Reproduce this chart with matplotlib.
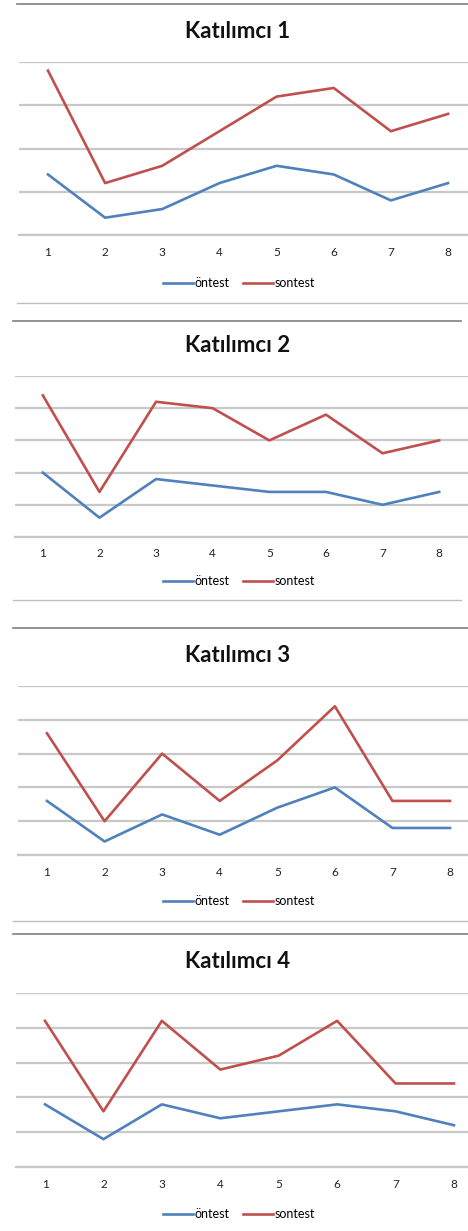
import matplotlib
matplotlib.use("Agg")
import matplotlib.pyplot as plt
from matplotlib.lines import Line2D

plt.rcParams['font.family'] = ['Lato', 'DejaVu Sans']

sessions = [1, 2, 3, 4, 5, 6, 7, 8]
titles = ["Katılımcı 1", "Katılımcı 2", "Katılımcı 3", "Katılımcı 4"]
ontest_1 = [7, 2, 3, 6, 8, 7, 4, 6]
sontest_1 = [19, 6, 8, 12, 16, 17, 12, 14]
ontest_2 = [10, 3, 9, 8, 7, 7, 5, 7]
sontest_2 = [22, 7, 21, 20, 15, 19, 13, 15]
ontest_3 = [8, 2, 6, 3, 7, 10, 4, 4]
sontest_3 = [18, 5, 15, 8, 14, 22, 8, 8]
ontest_4 = [9, 4, 9, 7, 8, 9, 8, 6]
sontest_4 = [21, 8, 21, 14, 16, 21, 12, 12]
ymax = [20, 25, 25, 25]
ystep = 5

W, H = 468, 1231
fig = plt.figure(figsize=(W / 100, H / 100), dpi=100)

BLUE = '#4F81BD'
RED = '#C0504D'
GRID = '#C8C8C8'

# layout in pixels: (left, right, top_grid, bottom_grid, title_y, tick_y, legend_y, frame_top, frame_bottom, frame_x0, frame_x1)
layouts = [
    (19.4, 476.6, 62, 235, 31, 253, 283, 4, 303, 17, 468),
    (14.5, 467.5, 376, 537, 346, 554, 581, 321, 600, 13, 461),
    (18.2, 478.8, 686, 855, 655, 873, 901, 628, 921, 13, 468),
    (15.8, 483.2, 993, 1167, 962, 1185, 1214, 934, 1240, 13, 468),
]
data = [(ontest_1, sontest_1), (ontest_2, sontest_2), (ontest_3, sontest_3), (ontest_4, sontest_4)]

def fy(p):
    return 1 - p / H

for i, (lay, (on, so)) in enumerate(zip(layouts, data)):
    l, r, t, b, ty, tky, ly, ft, fb, fx0, fx1 = lay
    ax = fig.add_axes([l / W, fy(b), (r - l) / W, (b - t) / H])
    ax.set_xlim(0.5, 8.5)
    ax.set_ylim(0, ymax[i])
    ax.set_yticks(range(0, ymax[i] + 1, ystep))
    ax.set_yticklabels([])
    ax.tick_params(axis='y', length=0)
    ax.grid(axis='y', color=GRID, linewidth=1.6)
    ax.set_axisbelow(True)
    for s in ['top', 'right', 'left']:
        ax.spines[s].set_visible(False)
    ax.spines['bottom'].set_color(GRID)
    ax.spines['bottom'].set_linewidth(1.6)
    ax.set_xticks(sessions)
    ax.set_xticklabels([str(s) for s in sessions], fontsize=8.5, color='#222222')
    ax.tick_params(axis='x', length=0, pad=(tky - b) * 0.72 - 4.5)
    ax.plot(sessions, on, color=BLUE, linewidth=1.9, label='öntest')
    ax.plot(sessions, so, color=RED, linewidth=1.9, label='sontest')
    fig.text(238 / W, fy(ty), titles[i], ha='center', va='center', fontsize=16,
             fontweight='bold', color='#111111')
    fig.legend(handles=ax.get_lines(), loc='center', bbox_to_anchor=(239 / W, fy(ly)),
               ncol=2, frameon=False, fontsize=9, handlelength=2.4, handletextpad=0.1,
               columnspacing=1.1, borderpad=0)
    fig.add_artist(Line2D([fx0 / W, fx1 / W], [fy(ft), fy(ft)], color='#7F7F7F', linewidth=1.2))
    fig.add_artist(Line2D([fx0 / W, fx1 / W], [fy(fb), fy(fb)], color='#BFBFBF', linewidth=1.0))

fig.savefig('out.png', dpi=100)
